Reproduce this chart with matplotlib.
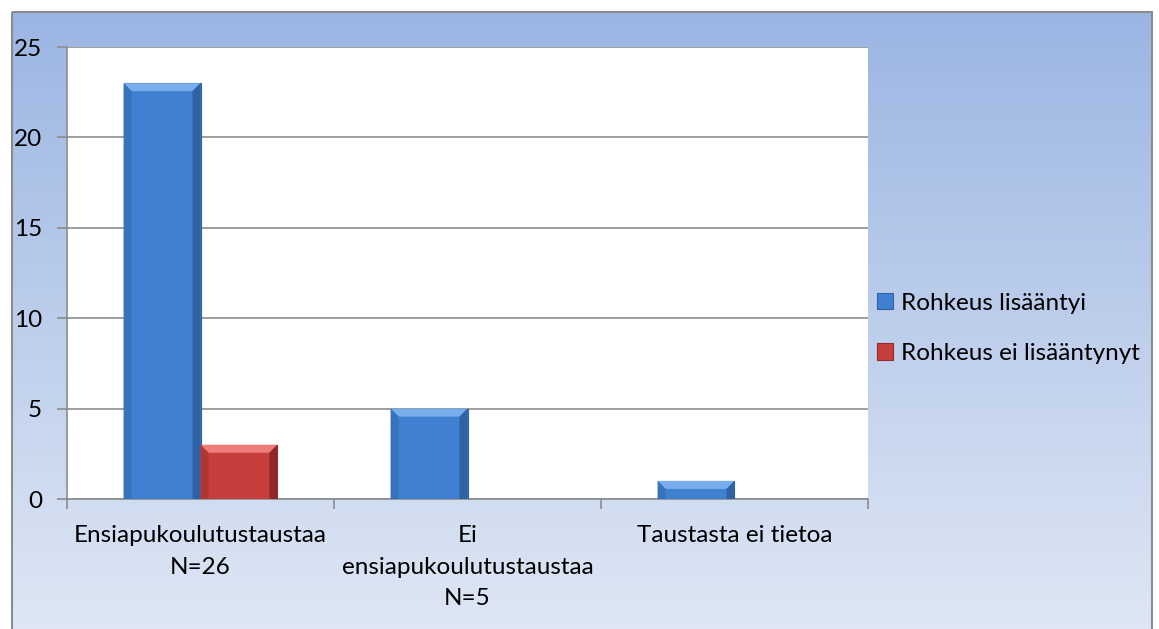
import matplotlib
matplotlib.use("Agg")
import matplotlib.pyplot as plt
import numpy as np
from matplotlib.patches import Rectangle, Polygon

categories = ["Ensiapukoulutustaustaa\nN=26", "Ei\nensiapukoulutustaustaa\nN=5", "Taustasta ei tietoa"]
series_names = ["Rohkeus lisääntyi", "Rohkeus ei lisääntynyt"]
increased = [23, 5, 1]
not_increased = [3, 0, 0]
yticks = [0, 5, 10, 15, 20, 25]

plt.rcParams['font.family'] = ['Lato', 'DejaVu Sans']
FS = 17.5

W, H = 1159, 629
fig = plt.figure(figsize=(W/100, H/100), dpi=100)

# background gradient + border
bg = fig.add_axes([0, 0, 1, 1])
bg.set_xlim(0, W); bg.set_ylim(H, 0); bg.axis('off')
grad = np.linspace(0, 1, 256).reshape(-1, 1)
top = np.array([0x9B, 0xB5, 0xE3]) / 255
bot = np.array([0xDF, 0xE7, 0xF4]) / 255
img = top + (bot - top) * grad[..., None]
bg.imshow(img, extent=[12, 1152, H + 5, 12], aspect='auto', zorder=0)
bg.add_patch(Rectangle((12, 12), 1140, H, fill=False, edgecolor='#8C8C8C', lw=1.5, zorder=1))

# plot axes
x0, x1, y0, y1 = 67, 868, 47, 499
ax = fig.add_axes([x0/W, 1 - y1/H, (x1 - x0)/W, (y1 - y0)/H])
ax.set_facecolor('white')
n = len(categories)
ax.set_xlim(0, n)
ax.set_ylim(0, 25)
ax.set_yticks(yticks)
ax.set_yticklabels([str(v) for v in yticks], fontsize=FS)
ax.yaxis.grid(True, color='#8C8C8C', lw=1.2)
ax.set_axisbelow(True)
ax.set_xticks(np.arange(0, n + 1))
ax.set_xticklabels([])
ax.set_xticks(np.arange(n) + 0.5, minor=True)
ax.set_xticklabels(categories, minor=True, fontsize=FS, linespacing=1.6)
ax.tick_params(axis='x', which='minor', length=0, pad=19)
ax.tick_params(axis='x', which='major', length=7, color='#8C8C8C', width=1.2)
ax.tick_params(axis='y', length=7, color='#8C8C8C', width=1.2, pad=11)
for s in ['top', 'right']:
    ax.spines[s].set_visible(False)
for s in ['left', 'bottom']:
    ax.spines[s].set_color('#8C8C8C')
    ax.spines[s].set_linewidth(1.2)

bw = 0.288
xc = np.arange(n) + 0.5
b1 = ax.bar(xc - bw/2, increased, width=bw, color='#4080D0', edgecolor='#2F609F', lw=0.8,
            label=series_names[0], zorder=3)
b2 = ax.bar(xc + bw/2, not_increased, width=bw, color='#C63F3C', edgecolor='#922B29', lw=0.8,
            label=series_names[1], zorder=3)

# bevel effect
px_x = n / (x1 - x0)
px_y = 25 / (y1 - y0)
bx, by = 8 * px_x, 8 * px_y
for bars, light, dark, side in [(b1, '#78AEEB', '#2F62A3', '#3772BC'),
                                (b2, '#EE7C79', '#8E2826', '#B03634')]:
    for r in bars:
        h = r.get_height()
        if h <= 0:
            r.set_visible(False)
            continue
        xl, xr = r.get_x(), r.get_x() + r.get_width()
        byy = min(by, h / 2)
        ax.add_patch(Polygon([(xl, h), (xr, h), (xr - bx, h - byy), (xl + bx, h - byy)],
                             closed=True, facecolor=light, edgecolor='none', zorder=4))
        ax.add_patch(Polygon([(xl, 0), (xl, h), (xl + bx, h - byy), (xl + bx, 0)],
                             closed=True, facecolor=side, edgecolor='none', zorder=4))
        ax.add_patch(Polygon([(xr, 0), (xr, h), (xr - bx, h - byy), (xr - bx, 0)],
                             closed=True, facecolor=dark, edgecolor='none', zorder=4))

leg = fig.legend(handles=[b1, b2], labels=series_names, loc='upper left',
                 bbox_to_anchor=(855/W, 1 - 271/H), frameon=False, fontsize=FS,
                 handlelength=0.65, handleheight=0.65, handletextpad=0.35, labelspacing=1.2)

fig.savefig("out.png", dpi=100)
